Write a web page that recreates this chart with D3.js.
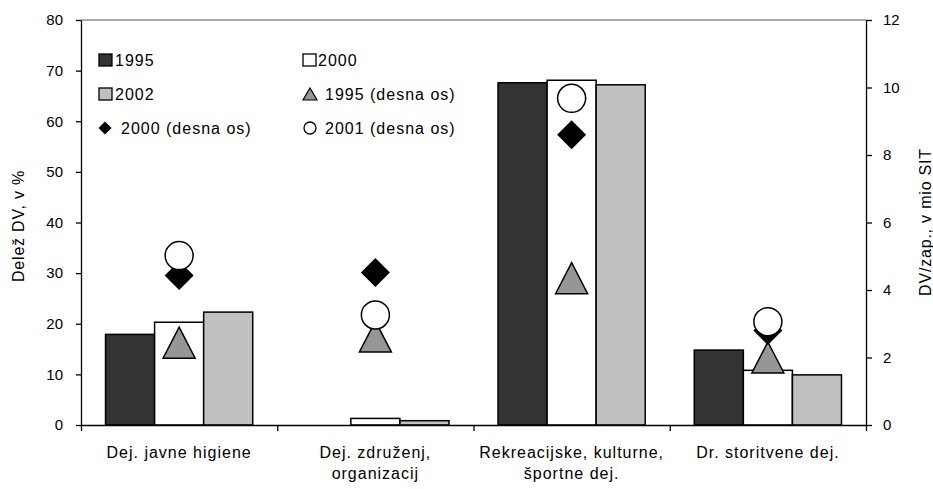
<!DOCTYPE html>
<html lang="sl">
<head>
    <meta charset="UTF-8">
    <title>Delež DV</title>
    <script src="https://cdn.jsdelivr.net/npm/d3@7/dist/d3.min.js"></script>
    <style>
        html, body {
            margin: 0;
            padding: 0;
            width: 100%;
            height: 100%;
            overflow: hidden;
            background: #fff;
        }
        text {
            font-family: "Liberation Sans", Arial, sans-serif;
            fill: #000;
        }
        .axis text { font-size: 15px; }
        .lbl { font-size: 16px; letter-spacing: 1px; }
    </style>
</head>
<body>
</body>
<script>
    let width = 933;
    let height = 489;

    // podatki
    let categories = [
        ['Dej. javne higiene'],
        ['Dej. združenj,', 'organizacij'],
        ['Rekreacijske, kulturne,', 'športne dej.'],
        ['Dr. storitvene dej.']
    ];
    let barSeries = ['1995', '2000', '2002'];
    let share1995 = [17.9, 0, 67.6, 14.8];
    let share2000 = [20.3, 1.3, 68.1, 10.8];
    let share2002 = [22.3, 0.85, 67.2, 9.9];
    let right1995 = [2.44, 2.62, 4.35, 2.0];
    let right2000 = [4.43, 4.52, 8.6, 2.8];
    let right2001 = [5.02, 3.26, 9.68, 3.06];
    let leftTicks = [0, 10, 20, 30, 40, 50, 60, 70, 80];
    let rightTicks = [0, 2, 4, 6, 8, 10, 12];

    let barColors = ['#333333', '#ffffff', '#c0c0c0'];
    let barValues = [share1995, share2000, share2002];

    let m = {left: 81, right: 866, top: 20, bottom: 425};

    let svg = d3.select('body').append('svg')
        .attr('width', width)
        .attr('height', height);

    let catIdx = categories.map((d, i) => i);
    let x = d3.scaleBand().domain(catIdx).range([m.left, m.right]).padding(0);
    let xSub = d3.scaleBand().domain(barSeries).range([0, x.bandwidth()])
        .paddingInner(0).paddingOuter(0.5);
    let yL = d3.scaleLinear().domain([0, 80]).range([m.bottom, m.top]);
    let yR = d3.scaleLinear().domain([0, 12]).range([m.bottom, m.top]);

    // zgornja siva črta
    svg.append('line')
        .attr('x1', m.left).attr('x2', m.right)
        .attr('y1', m.top).attr('y2', m.top)
        .attr('stroke', '#8c8c8c').attr('stroke-width', 1.5);

    // stolpci
    barSeries.forEach((s, si) => {
        svg.append('g').selectAll('rect')
            .data(barValues[si])
            .enter().append('rect')
            .attr('x', (d, i) => x(i) + xSub(s))
            .attr('y', d => yL(d))
            .attr('width', xSub.bandwidth())
            .attr('height', d => yL(0) - yL(d))
            .attr('fill', barColors[si])
            .attr('stroke', '#000')
            .attr('stroke-width', 1.5);
    });

    // osi
    let axL = svg.append('g').attr('class', 'axis')
        .attr('transform', `translate(${m.left},0)`)
        .call(d3.axisLeft(yL).tickValues(leftTicks).tickSize(5).tickSizeOuter(0).tickPadding(13));
    let axR = svg.append('g').attr('class', 'axis')
        .attr('transform', `translate(${m.right},0)`)
        .call(d3.axisRight(yR).tickValues(rightTicks).tickSize(6).tickSizeOuter(0).tickPadding(11));
    let xEdge = d3.scaleLinear().domain([0, categories.length]).range([m.left, m.right]);
    let axB = svg.append('g').attr('class', 'axis')
        .attr('transform', `translate(0,${m.bottom})`)
        .call(d3.axisBottom(xEdge).tickValues(d3.range(categories.length + 1))
            .tickFormat('').tickSize(6).tickSizeOuter(0));
    [axL, axR, axB].forEach(a => {
        a.selectAll('path, line').attr('stroke', '#000').attr('stroke-width', 1.3);
        a.selectAll('text').attr('fill', '#000').style('font-family', '"Liberation Sans", Arial, sans-serif');
    });

    // oznake kategorij
    svg.append('g').selectAll('text')
        .data(categories)
        .enter().append('text')
        .attr('class', 'lbl')
        .attr('text-anchor', 'middle')
        .attr('x', (d, i) => x(i) + x.bandwidth() / 2)
        .attr('y', 458)
        .each(function (d) {
            d3.select(this).selectAll('tspan').data(d).enter().append('tspan')
                .attr('x', d3.select(this).attr('x'))
                .attr('dy', (t, j) => j === 0 ? 0 : 21)
                .text(t => t);
        });

    // oznake na desni osi
    let triPath = (w, h) => `M0,${-h / 2}L${w / 2},${h / 2}L${-w / 2},${h / 2}Z`;
    let diaPath = (s) => `M0,${-s / 2}L${s / 2},0L0,${s / 2}L${-s / 2},0Z`;
    let cx = i => x(i) + x.bandwidth() / 2;

    svg.append('g').selectAll('path')
        .data(right1995).enter().append('path')
        .attr('d', triPath(32, 31))
        .attr('transform', (d, i) => `translate(${cx(i)},${yR(d)})`)
        .attr('fill', '#969696').attr('stroke', '#000').attr('stroke-width', 1.5);
    svg.append('g').selectAll('path')
        .data(right2000).enter().append('path')
        .attr('d', diaPath(29))
        .attr('transform', (d, i) => `translate(${cx(i)},${yR(d)})`)
        .attr('fill', '#000');
    svg.append('g').selectAll('circle')
        .data(right2001).enter().append('circle')
        .attr('cx', (d, i) => cx(i))
        .attr('cy', d => yR(d))
        .attr('r', 14)
        .attr('fill', '#fff').attr('stroke', '#000').attr('stroke-width', 1.5);

    // legenda
    let legend = [
        {name: '1995', type: 'rect', fill: barColors[0], x: 99, y: 60, tx: 115},
        {name: '2000', type: 'rect', fill: barColors[1], x: 303, y: 60, tx: 318},
        {name: '2002', type: 'rect', fill: barColors[2], x: 99, y: 94, tx: 115},
        {name: '1995 (desna os)', type: 'tri', x: 310, y: 94, tx: 325},
        {name: '2000 (desna os)', type: 'dia', x: 105, y: 128, tx: 121},
        {name: '2001 (desna os)', type: 'circ', x: 310, y: 128, tx: 325}
    ];
    let lg = svg.append('g').selectAll('g').data(legend).enter().append('g');
    lg.each(function (d) {
        let g = d3.select(this);
        if (d.type === 'rect') {
            g.append('rect').attr('x', d.x).attr('y', d.y - 6).attr('width', 13).attr('height', 12)
                .attr('fill', d.fill).attr('stroke', '#000').attr('stroke-width', 1.3);
        } else if (d.type === 'tri') {
            g.append('path').attr('d', triPath(14, 12)).attr('transform', `translate(${d.x},${d.y})`)
                .attr('fill', '#969696').attr('stroke', '#000').attr('stroke-width', 1.2);
        } else if (d.type === 'dia') {
            g.append('path').attr('d', diaPath(13)).attr('transform', `translate(${d.x},${d.y})`)
                .attr('fill', '#000');
        } else {
            g.append('circle').attr('cx', d.x).attr('cy', d.y).attr('r', 6)
                .attr('fill', '#fff').attr('stroke', '#000').attr('stroke-width', 1.3);
        }
        g.append('text').attr('class', 'lbl')
            .attr('x', d.tx).attr('y', d.y + 6)
            .text(d.name);
    });

    // naslovi osi
    svg.append('text').attr('class', 'lbl')
        .attr('text-anchor', 'middle')
        .attr('transform', `translate(24,226) rotate(-90)`)
        .style('letter-spacing', '0.8px')
        .text('Delež DV, v %');
    svg.append('text').attr('class', 'lbl')
        .attr('text-anchor', 'middle')
        .attr('transform', `translate(931,222) rotate(-90)`)
        .style('letter-spacing', '0.8px')
        .text('DV/zap., v mio SIT');
</script>
</html>
